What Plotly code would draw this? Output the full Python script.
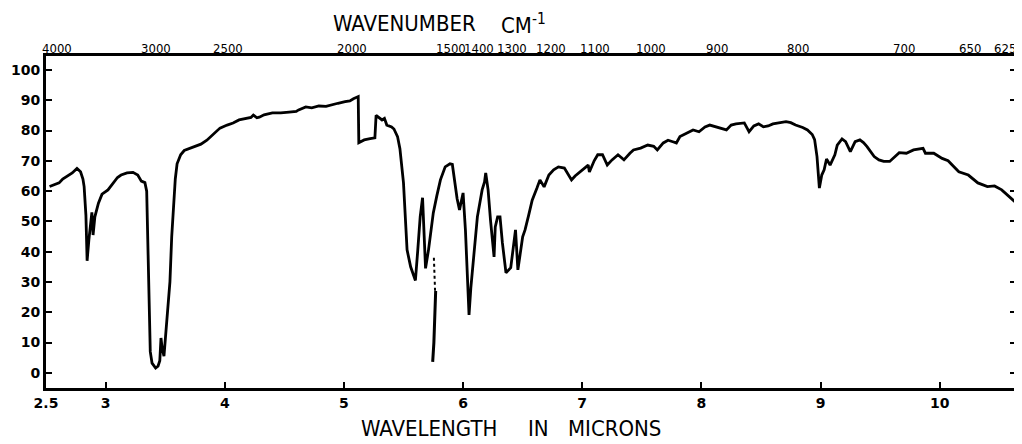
import plotly.graph_objects as go

# Wavelength (microns) and % transmittance
wavelength = [
    2.53, 2.57, 2.61, 2.64, 2.67, 2.72, 2.76, 2.79, 2.81, 2.82, 2.835, 2.845, 2.86, 2.875, 2.885,
    2.895, 2.91, 2.94, 2.97, 3.02, 3.06, 3.10, 3.13, 3.18, 3.23, 3.27, 3.30, 3.33, 3.345, 3.355,
    3.365, 3.375, 3.39, 3.42, 3.44, 3.455, 3.465, 3.475, 3.49, 3.50, 3.52, 3.54, 3.555, 3.57, 3.585,
    3.60, 3.63, 3.66, 3.70, 3.74, 3.80, 3.85, 3.90, 3.96, 4.02, 4.07, 4.12, 4.18, 4.22, 4.24,
    4.27, 4.29, 4.33, 4.40, 4.47, 4.54, 4.60, 4.62, 4.68, 4.73, 4.79, 4.85, 4.90, 4.95, 5.01,
    5.05, 5.08, 5.11, 5.12, 5.125, 5.17, 5.22, 5.26, 5.27, 5.30, 5.32, 5.34, 5.36, 5.40, 5.42,
    5.45, 5.47, 5.50, 5.52, 5.53, 5.56, 5.58, 5.60, 5.62, 5.64, 5.66, 5.675, 5.685, 5.71, 5.73,
    5.75, 5.78, 5.81, 5.85, 5.87, 5.89, 5.91, 5.93, 5.95, 5.97, 6.00, 6.02, 6.035, 6.05, 6.065,
    6.08, 6.10, 6.12, 6.16, 6.18, 6.19, 6.21, 6.23, 6.26, 6.27, 6.29, 6.31, 6.33, 6.36, 6.40,
    6.44, 6.46, 6.50, 6.52, 6.55, 6.58, 6.62, 6.645, 6.68, 6.72, 6.76, 6.80, 6.85, 6.88, 6.91,
    6.94, 6.97, 7.02, 7.05, 7.06, 7.10, 7.13, 7.17, 7.21, 7.25, 7.30, 7.35, 7.40, 7.43, 7.49,
    7.55, 7.60, 7.63, 7.68, 7.72, 7.76, 7.79, 7.82, 7.88, 7.93, 7.98, 8.03, 8.07, 8.11, 8.15,
    8.21, 8.25, 8.29, 8.36, 8.40, 8.44, 8.48, 8.52, 8.56, 8.60, 8.64, 8.71, 8.75, 8.79, 8.85,
    8.89, 8.93, 8.95, 8.97, 8.99, 9.01, 9.03, 9.05, 9.08, 9.12, 9.14, 9.18, 9.21, 9.25, 9.29,
    9.33, 9.36, 9.39, 9.45, 9.49, 9.53, 9.58, 9.62, 9.66, 9.72, 9.78, 9.86, 9.88, 9.95, 10.02,
    10.07, 10.12, 10.16, 10.24, 10.32, 10.40, 10.46, 10.52, 10.57, 10.63,
]
transmittance = [
    61.5, 62.0, 62.7, 64.0, 64.8, 66.0, 67.5, 66.4, 64.0, 61.5, 52.0, 37.0, 44.0, 50.0, 53.0,
    45.5, 51.5, 56.0, 59.0, 60.4, 62.5, 64.5, 65.3, 66.0, 66.2, 65.3, 63.3, 62.8, 60.0, 44.0,
    20.0, 7.0, 3.2, 1.6, 2.2, 4.0, 11.5, 8.0, 5.5, 10.0, 20.0, 30.0, 45.0, 57.0, 64.0,
    69.0, 72.0, 73.4, 74.0, 74.5, 75.5, 76.8, 78.5, 80.8, 81.8, 82.5, 83.5, 84.0, 84.3, 85.1,
    84.2, 84.4, 85.2, 85.8, 85.8, 86.1, 86.3, 86.8, 87.8, 87.5, 88.1, 88.0, 88.6, 89.0, 89.5,
    89.8, 90.5, 91.0, 91.2, 76.0, 76.9, 77.3, 77.6, 85.0, 84.0, 83.5, 84.0, 81.8, 81.2, 80.5,
    78.0, 74.0, 62.7, 48.0, 40.6, 35.0, 32.5, 30.5, 40.6, 51.5, 57.8, 45.0, 34.5, 40.6, 47.0,
    52.8, 58.5, 63.7, 68.0, 68.5, 69.0, 68.8, 62.7, 57.5, 53.8, 59.4, 47.0, 35.0, 19.1, 28.0,
    35.0, 45.0, 51.5, 60.4, 63.0, 66.0, 60.4, 50.5, 38.3, 48.2, 51.5, 51.5, 42.9, 33.0, 34.7,
    47.2, 34.0, 44.9, 47.2, 52.0, 57.0, 61.0, 63.7, 61.4, 65.3, 67.0, 68.0, 67.6, 65.5, 63.7,
    65.0, 66.0, 67.8, 68.6, 66.3, 70.0, 72.0, 72.0, 68.6, 70.3, 72.0, 70.3, 72.5, 73.6, 74.2,
    75.2, 74.8, 73.6, 75.9, 76.8, 76.3, 75.9, 78.0, 79.2, 80.2, 79.6, 81.2, 81.8, 81.4, 80.8,
    80.2, 81.8, 82.2, 82.5, 79.6, 81.5, 82.2, 81.2, 81.5, 82.2, 82.5, 82.9, 82.6, 81.8, 81.0,
    80.2, 78.7, 77.0, 71.4, 61.0, 65.3, 67.0, 70.6, 68.6, 72.0, 75.2, 77.2, 76.3, 73.0, 76.3,
    76.9, 76.0, 74.7, 71.4, 70.3, 69.8, 69.8, 71.3, 72.7, 72.5, 73.6, 74.1, 72.5, 72.5, 70.8,
    70.0, 68.0, 66.4, 65.3, 62.7, 61.5, 61.7, 60.4, 58.7, 56.5,
]

# Broken (dotted) pen trace and sharp spike near 5.75 microns
dotted_x = [5.755, 5.765]
dotted_y = [38.0, 27.0]
spike_x = [5.77, 5.765, 5.755, 5.745]
spike_y = [27.0, 18.0, 10.0, 3.6]

# Axis ticks
x_ticks = [2.5, 3, 4, 5, 6, 7, 8, 9, 10]
x_tick_text = ["2.5", "3", "4", "5", "6", "7", "8", "9", "10"]
y_ticks = [0, 10, 20, 30, 40, 50, 60, 70, 80, 90, 100]

# Wavenumber labels along the top (placed at wavelength-axis positions as printed)
wn_labels = ["4000", "3000", "2500", "2000", "1500", "1400", "1300", "1200", "1100", "1000",
             "900", "800", "700", "650", "625"]
wn_pos = [2.59, 3.42, 4.03, 5.07, 5.90, 6.13, 6.41, 6.74, 7.11, 7.58,
          8.13, 8.81, 9.70, 10.25, 10.56]

fig = go.Figure()
fig.add_trace(go.Scatter(x=wavelength, y=transmittance, mode="lines",
                         line=dict(color="black", width=2.8), hoverinfo="skip"))
fig.add_trace(go.Scatter(x=dotted_x, y=dotted_y, mode="lines",
                         line=dict(color="black", width=2, dash="dot"), hoverinfo="skip"))
fig.add_trace(go.Scatter(x=spike_x, y=spike_y, mode="lines",
                         line=dict(color="black", width=3), hoverinfo="skip"))

# The page body adds an 8px margin, so the figure is drawn 8px in from the top-left.
OFF = 8
W, H = 1022 - OFF, 444 - OFF
# plot-area edges in window pixels: left 39, right 1019, top 56, bottom 388
L = 39 - OFF
T = 56 - OFF
R = W - (1019 - OFF)
B = H - (388 - OFF)
pw, ph = W - L - R, H - T - B


def px_x(p):
    return (p - OFF - L) / pw


def px_y(p):
    return (H - B - (p - OFF)) / ph


narrow = "Liberation Sans Narrow, DejaVu Sans Condensed, Liberation Sans, sans-serif"

annotations = []
for i, (lab, pos) in enumerate(zip(wn_labels, wn_pos)):
    last = i == len(wn_labels) - 1
    annotations.append(dict(x=px_x(1021) if last else pos, y=px_y(49),
                            xref="paper" if last else "x", yref="paper", text=lab,
                            showarrow=False, xanchor="right" if last else "center",
                            yanchor="middle",
                            font=dict(family=narrow, size=13, color="black")))

title_font = dict(family=narrow, size=22, color="black")
annotations.append(dict(x=px_x(327), y=px_y(24), xref="paper", yref="paper", text="WAVENUMBER",
                        showarrow=False, xanchor="left", yanchor="middle", font=title_font))
annotations.append(dict(x=px_x(497), y=px_y(24), xref="paper", yref="paper", text="CM<sup>-1</sup>",
                        showarrow=False, xanchor="left", yanchor="middle", font=title_font))
for word, left in [("WAVELENGTH", 355), ("IN", 524), ("MICRONS", 564)]:
    annotations.append(dict(x=px_x(left), y=px_y(443), xref="paper", yref="paper", text=word,
                            showarrow=False, xanchor="left", yanchor="bottom", font=title_font))

tickfont = dict(family="DejaVu Sans", size=14, color="black", weight="bold")

fig.update_layout(
    width=W, height=H,
    margin=dict(l=L, r=R, t=T, b=B, pad=0),
    paper_bgcolor="white", plot_bgcolor="white",
    showlegend=False,
    annotations=annotations,
    xaxis=dict(range=[2.5, 10.64], tickvals=x_ticks, ticktext=x_tick_text,
               showgrid=False, zeroline=False, showline=True, linecolor="black", linewidth=3,
               mirror=True, ticks="inside", ticklen=6, tickwidth=1.5, tickcolor="black",
               tickfont=tickfont),
    yaxis=dict(range=[-5, 104.6], tickvals=y_ticks,
               showgrid=False, zeroline=False, showline=True, linecolor="black", linewidth=3,
               mirror="ticks", ticks="inside", ticklen=6, tickwidth=1.5, tickcolor="black",
               tickfont=tickfont),
)

fig.write_html("out.html")
